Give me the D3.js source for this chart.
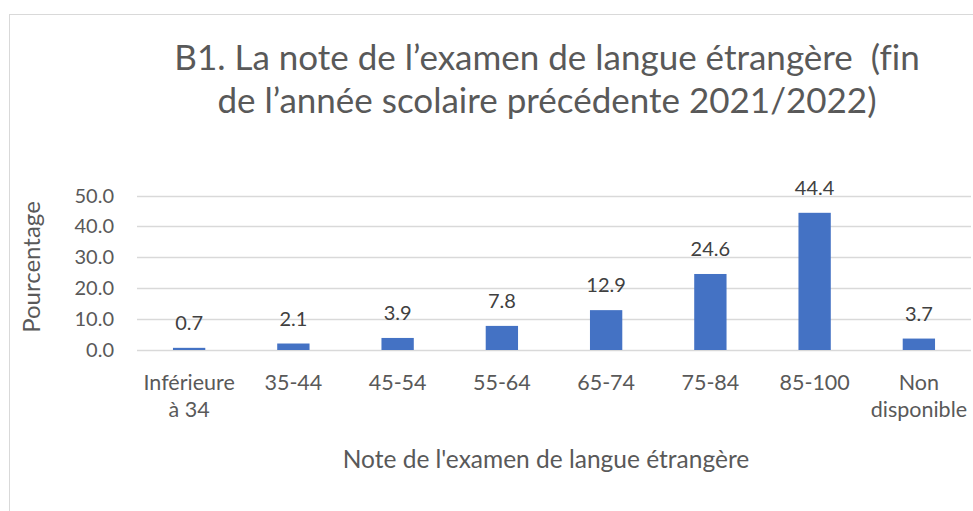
<!DOCTYPE html>
<html>
<head>
<meta charset="utf-8">
<script src="https://cdn.jsdelivr.net/npm/d3@7"></script>
<style>
  body { margin: 0; background: #fff; }
  text { font-family: Lato, "Open Sans", sans-serif; white-space: pre; font-variant-ligatures: none; }
</style>
</head>
<body>
<script>
// chart data
const categories = ["Inférieure à 34", "35-44", "45-54", "55-64", "65-74", "75-84", "85-100", "Non disponible"];
const tickLines = [["Inférieure", "à 34"], ["35-44"], ["45-54"], ["55-64"], ["65-74"], ["75-84"], ["85-100"], ["Non", "disponible"]];
const values = [0.7, 2.1, 3.9, 7.8, 12.9, 24.6, 44.4, 3.7];
const yTicks = [0, 10, 20, 30, 40, 50];
const titleLines = ["B1. La note de l\u2019examen de langue étrangère  (fin", "de l\u2019année scolaire précédente 2021/2022)"];

const width = 973;
const height = 511;
const plot = { left: 137, right: 971, top: 195.5, bottom: 350 };

const svg = d3.select("body")
  .append("svg")
  .attr("width", width)
  .attr("height", height);

// chart area border
svg.append("rect")
  .attr("x", 9.5)
  .attr("y", 14.5)
  .attr("width", 1000)
  .attr("height", 600)
  .attr("fill", "#fff")
  .attr("stroke", "#d9d9d9");

const x = d3.scaleBand()
  .domain(categories)
  .range([plot.left, plot.right])
  .paddingInner(0.69)
  .paddingOuter(0.345);

const y = d3.scaleLinear()
  .domain([0, 50])
  .range([plot.bottom, plot.top]);

// gridlines
svg.append("g")
  .selectAll("line")
  .data(yTicks)
  .enter().append("line")
  .attr("x1", plot.left)
  .attr("x2", plot.right)
  .attr("y1", d => Math.round(y(d)) + 0.5)
  .attr("y2", d => Math.round(y(d)) + 0.5)
  .attr("stroke", "#d9d9d9")
  .attr("stroke-width", 1.5);

// y tick labels
svg.append("g")
  .selectAll("text")
  .data(yTicks)
  .enter().append("text")
  .attr("x", plot.left - 23)
  .attr("y", d => y(d))
  .attr("dy", "0.35em")
  .attr("text-anchor", "end")
  .attr("font-size", "20px")
  .attr("fill", "#595959")
  .text(d => d.toFixed(1));

// bars
svg.append("g")
  .selectAll("rect")
  .data(values)
  .enter().append("rect")
  .attr("x", (d, i) => x(categories[i]))
  .attr("y", d => y(d))
  .attr("width", x.bandwidth())
  .attr("height", d => y(0) - y(d))
  .attr("fill", "#4472c4");

// data labels
svg.append("g")
  .selectAll("text")
  .data(values)
  .enter().append("text")
  .attr("x", (d, i) => x(categories[i]) + x.bandwidth() / 2)
  .attr("y", d => y(d) - 18)
  .attr("text-anchor", "middle")
  .attr("font-size", "20px")
  .attr("fill", "#404040")
  .text(d => d.toFixed(1));

// x tick labels
const xLab = svg.append("g")
  .selectAll("text")
  .data(tickLines)
  .enter().append("text")
  .attr("x", (d, i) => x(categories[i]) + x.bandwidth() / 2)
  .attr("y", 390)
  .attr("text-anchor", "middle")
  .attr("font-size", "21.5px")
  .attr("fill", "#595959");

xLab.selectAll("tspan")
  .data(d => d)
  .enter().append("tspan")
  .attr("x", function () { return this.parentNode.getAttribute("x"); })
  .attr("dy", (d, i) => i === 0 ? 0 : 27)
  .text(d => d);

// axis titles
svg.append("text")
  .attr("x", 546)
  .attr("y", 468)
  .attr("text-anchor", "middle")
  .attr("font-size", "24.5px")
  .attr("fill", "#595959")
  .text("Note de l'examen de langue étrangère");

svg.append("text")
  .attr("transform", "translate(40,267) rotate(-90)")
  .attr("text-anchor", "middle")
  .attr("font-size", "24px")
  .attr("fill", "#595959")
  .text("Pourcentage");

// title
svg.append("g")
  .selectAll("text")
  .data(titleLines)
  .enter().append("text")
  .attr("x", 547)
  .attr("y", (d, i) => 70 + i * 43)
  .attr("text-anchor", "middle")
  .attr("font-size", "35px")
  .attr("fill", "#595959")
  .text(d => d);
</script>
</body>
</html>
